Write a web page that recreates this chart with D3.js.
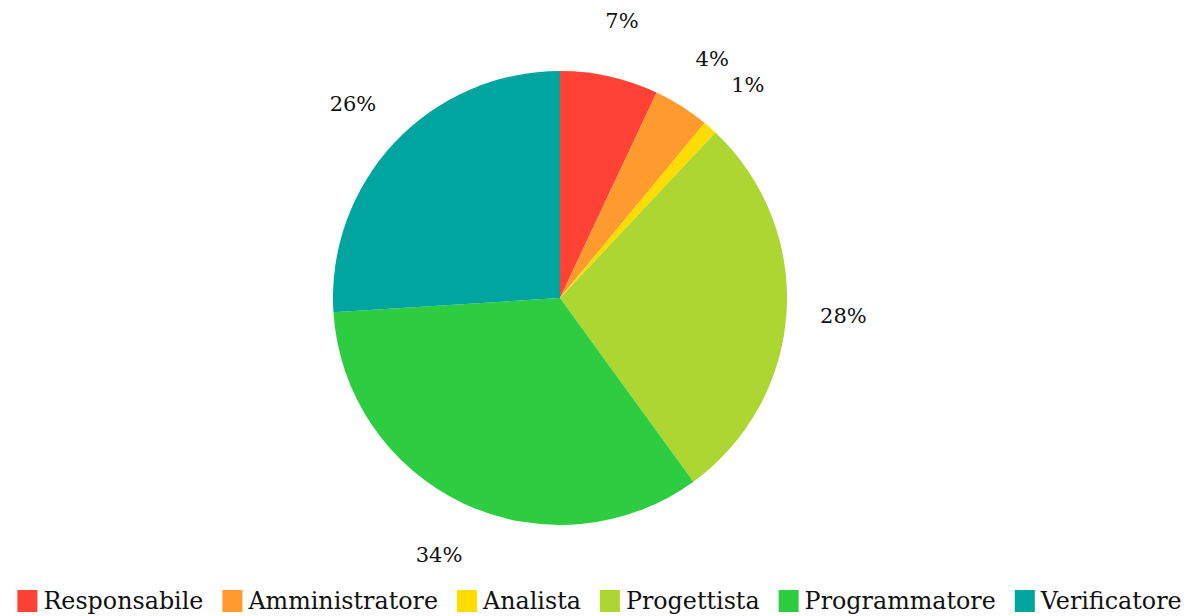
<!DOCTYPE html>
<html>
<head>
<meta charset="utf-8">
<script src="https://cdn.jsdelivr.net/npm/d3@7"></script>
<style>
  body { margin: 0; background: #fff; }
</style>
</head>
<body>
<svg width="1199" height="616"></svg>
<script>
// roles and their share of hours
const roles = ['Responsabile', 'Amministratore', 'Analista', 'Progettista', 'Programmatore', 'Verificatore'];
const shares = [7, 4, 1, 28, 34, 26];
const colors = ['#ff4136', '#ff9a2e', '#ffdc00', '#add632', '#2ecc40', '#01a59f'];

const svg = d3.select('svg');
const width = +svg.attr('width');
const serif = '"DejaVu Serif", "Liberation Serif", serif';

const cx = 560, cy = 298;
const radius = 227, labelRadius = 284;

const color = d3.scaleOrdinal().domain(roles).range(colors);

const pie = d3.pie().sort(null).value(d => d.value);
const data = roles.map((r, i) => ({ role: r, value: shares[i] }));
const arcs = pie(data);

const arc = d3.arc().innerRadius(0).outerRadius(radius);
const labelArc = d3.arc().innerRadius(labelRadius).outerRadius(labelRadius);

const g = svg.append('g').attr('transform', `translate(${cx},${cy})`);

g.selectAll('.slice')
  .data(arcs)
  .enter().append('path')
    .attr('class', 'slice')
    .attr('d', arc)
    .attr('fill', d => color(d.data.role));

g.selectAll('.label')
  .data(arcs)
  .enter().append('text')
    .attr('class', 'label')
    .attr('transform', d => `translate(${labelArc.centroid(d)})`)
    .attr('text-anchor', 'middle')
    .attr('dy', '0.35em')
    .style('font-family', serif)
    .attr('font-size', 21)
    .attr('fill', '#111')
    .text(d => `${d.data.value}%`);

// legend, centred along the bottom
const legend = svg.append('g');
const box = 20, pad = 6, gap = 19, fontSize = 23.8;

const items = legend.selectAll('.item')
  .data(roles)
  .enter().append('g')
    .attr('class', 'item');

items.append('rect')
  .attr('width', box)
  .attr('height', 22)
  .attr('y', -11)
  .attr('fill', d => color(d));

items.append('text')
  .attr('x', box + pad)
  .attr('dy', '0.33em')
  .style('font-family', serif)
  .attr('font-size', fontSize)
  .attr('fill', '#111')
  .text(d => d);

let x = 0;
items.each(function () {
  const w = this.getBBox().width;
  d3.select(this).attr('transform', `translate(${x},0)`);
  x += w + gap;
});
const total = x - gap;
legend.attr('transform', `translate(${(width - total) / 2},601)`);
</script>
</body>
</html>
